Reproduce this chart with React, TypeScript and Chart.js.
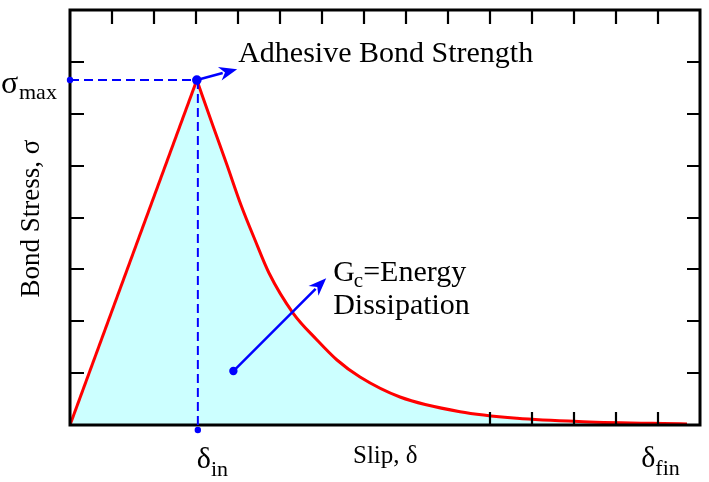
import React, { useEffect, useRef } from "react";
import { Chart, registerables } from "chart.js";

Chart.register(...registerables);

// ---- data (axis units: slip in tick units, stress in tick units) ----
const riseX = [0, 3.02];
const riseY = [0, 6.65];
const decayX = [3.02, 3.405, 3.738, 4.071, 4.405, 4.738, 5.31, 5.881, 6.357, 6.905, 7.857, 9.286, 10.643, 12.214, 14.69];
const decayY = [6.65, 5.764, 5.012, 4.241, 3.566, 2.93, 2.159, 1.639, 1.253, 0.925, 0.54, 0.256, 0.129, 0.064, 0.019];
const xTicksTop = [1, 2, 3, 4, 5, 6, 7, 8, 9, 10, 11, 12, 13, 14];
const xTicksBottom = [10, 11, 12, 13, 14];
const yTicks = [1, 2, 3, 4, 5, 6, 7];
const xRange = [0, 15];
const yRange = [0, 8];
const peak = { x: 3.02, y: 6.65 };
const deltaFinX = 14.1;
const bondArrowTip = { x: 3.98, y: 6.86 };
const gcArrowStart = { x: 3.89, y: 1.04 };
const gcArrowTip = { x: 6.1, y: 2.83 };
const yTitle = "Bond Stress, σ";
const xTitle = "Slip, δ";
const bondText = "Adhesive Bond Strength";
const gcText1 = "=Energy";
const gcText2 = "Dissipation";

const SERIF = "'Liberation Serif', 'Times New Roman', serif";

function arrow(ctx: CanvasRenderingContext2D, x1: number, y1: number, x2: number, y2: number, headLen: number, headW: number) {
  const ang = Math.atan2(y2 - y1, x2 - x1);
  const bx = x2 - headLen * Math.cos(ang);
  const by = y2 - headLen * Math.sin(ang);
  ctx.beginPath();
  ctx.moveTo(x1, y1);
  ctx.lineTo(bx + 3 * Math.cos(ang), by + 3 * Math.sin(ang));
  ctx.stroke();
  const nx = -Math.sin(ang), ny = Math.cos(ang);
  const ix = x2 - headLen * 0.7 * Math.cos(ang);
  const iy = y2 - headLen * 0.7 * Math.sin(ang);
  ctx.beginPath();
  ctx.moveTo(x2, y2);
  ctx.lineTo(bx + nx * headW, by + ny * headW);
  ctx.lineTo(ix, iy);
  ctx.lineTo(bx - nx * headW, by - ny * headW);
  ctx.closePath();
  ctx.fill();
}

function dot(ctx: CanvasRenderingContext2D, x: number, y: number, r: number) {
  ctx.beginPath();
  ctx.arc(x, y, r, 0, Math.PI * 2);
  ctx.fill();
}

const annotPlugin = {
  id: "annot",
  afterDatasetsDraw(chart: any) {
    const { ctx, chartArea, scales } = chart;
    const { left, right, top, bottom } = chartArea;
    const xs = scales.x, ys = scales.y;
    const X = (v: number) => xs.getPixelForValue(v);
    const Y = (v: number) => ys.getPixelForValue(v);
    ctx.save();
    // ticks
    ctx.strokeStyle = "#000";
    ctx.lineWidth = 2.2;
    const tl = 13;
    ctx.beginPath();
    xTicksTop.forEach((t) => { const p = Math.round(X(t)); ctx.moveTo(p, top); ctx.lineTo(p, top + tl + 1); });
    xTicksBottom.forEach((t) => { const p = Math.round(X(t)); ctx.moveTo(p, bottom); ctx.lineTo(p, bottom - tl); });
    yTicks.forEach((t) => {
      const p = Math.round(Y(t));
      ctx.moveTo(left, p); ctx.lineTo(left + tl + 1, p);
      ctx.moveTo(right, p); ctx.lineTo(right - tl, p);
    });
    ctx.stroke();
    // frame
    ctx.lineWidth = 3;
    ctx.strokeRect(left, top, right - left, bottom - top);

    // blue annotations
    const px = X(peak.x), py = Y(peak.y);
    ctx.strokeStyle = "#0000ff";
    ctx.fillStyle = "#0000ff";
    ctx.lineWidth = 2;
    ctx.setLineDash([9, 5]);
    ctx.beginPath();
    ctx.moveTo(left, py); ctx.lineTo(px, py);
    ctx.moveTo(px + 1, py); ctx.lineTo(px + 1, bottom + 5);
    ctx.stroke();
    ctx.setLineDash([]);
    dot(ctx, left, py, 3.2);
    dot(ctx, px + 1, bottom + 5, 3.2);
    dot(ctx, px, py, 4.8);
    ctx.lineWidth = 2.5;
    arrow(ctx, px, py, X(bondArrowTip.x), Y(bondArrowTip.y), 18, 7);
    dot(ctx, X(gcArrowStart.x), Y(gcArrowStart.y), 4.2);
    arrow(ctx, X(gcArrowStart.x), Y(gcArrowStart.y), X(gcArrowTip.x), Y(gcArrowTip.y), 18, 7);

    // texts
    ctx.fillStyle = "#000";
    ctx.textAlign = "left";
    ctx.textBaseline = "alphabetic";
    ctx.font = `30px ${SERIF}`;
    ctx.fillText(bondText, X(bondArrowTip.x) + 1, Y(bondArrowTip.y) - 7);

    // Gc text
    const gx = X(gcArrowTip.x) + 7, gy = Y(gcArrowTip.y) + 3;
    ctx.font = `30px ${SERIF}`;
    ctx.fillText("G", gx, gy);
    const gw = ctx.measureText("G").width;
    ctx.font = `21px ${SERIF}`;
    ctx.fillText("c", gx + gw - 1, gy + 6);
    const cw = ctx.measureText("c").width;
    ctx.font = `30px ${SERIF}`;
    ctx.fillText(gcText1, gx + gw + cw - 1, gy);
    ctx.fillText(gcText2, gx, gy + 33);

    // sigma max
    ctx.font = `32px ${SERIF}`;
    ctx.fillText("σ", 1, py + 13);
    ctx.font = `22px ${SERIF}`;
    ctx.fillText("max", 19, py + 19);

    // delta in
    ctx.font = `30px ${SERIF}`;
    ctx.fillText("δ", px, bottom + 43);
    let dw = ctx.measureText("δ").width;
    ctx.font = `22px ${SERIF}`;
    ctx.fillText("in", px + dw, bottom + 51);

    // delta fin
    const fx = X(deltaFinX) - 21;
    ctx.font = `30px ${SERIF}`;
    ctx.fillText("δ", fx, bottom + 42);
    dw = ctx.measureText("δ").width;
    ctx.font = `22px ${SERIF}`;
    ctx.fillText("fin", fx + dw, bottom + 50);

    // x title
    ctx.font = `25px ${SERIF}`;
    ctx.textAlign = "left";
    ctx.fillText(xTitle, 353, bottom + 38);

    // y title
    ctx.save();
    ctx.translate(39, (top + bottom) / 2 + 1);
    ctx.rotate(-Math.PI / 2);
    ctx.font = `27px ${SERIF}`;
    ctx.textAlign = "center";
    ctx.fillText(yTitle, 0, 0);
    ctx.restore();

    ctx.restore();
  },
};

export default function App() {
  const ref = useRef<HTMLCanvasElement | null>(null);
  useEffect(() => {
    document.body.style.margin = "0";
    const canvas = ref.current;
    if (!canvas) return;
    const chart = new Chart(canvas, {
      type: "line",
      data: {
        datasets: [
          {
            data: riseX.map((x, i) => ({ x, y: riseY[i] })),
            borderColor: "#ff0000",
            backgroundColor: "#ccffff",
            borderWidth: 3,
            fill: "origin",
            pointRadius: 0,
            tension: 0,
          },
          {
            data: decayX.map((x, i) => ({ x, y: decayY[i] })),
            borderColor: "#ff0000",
            backgroundColor: "#ccffff",
            borderWidth: 3,
            fill: "origin",
            pointRadius: 0,
            cubicInterpolationMode: "monotone",
          },
        ],
      },
      options: {
        animation: false,
        responsive: false,
        devicePixelRatio: 1,
        layout: { padding: { left: 70, right: 9, top: 10, bottom: 57 } },
        plugins: { legend: { display: false }, tooltip: { enabled: false } },
        scales: {
          x: { type: "linear", min: xRange[0], max: xRange[1], display: false },
          y: { type: "linear", min: yRange[0], max: yRange[1], display: false },
        },
      },
      plugins: [annotPlugin],
    } as any);
    return () => chart.destroy();
  }, []);
  return (
    <div style={{ width: 709, height: 482 }}>
      <canvas ref={ref} width={709} height={482} />
    </div>
  );
}
